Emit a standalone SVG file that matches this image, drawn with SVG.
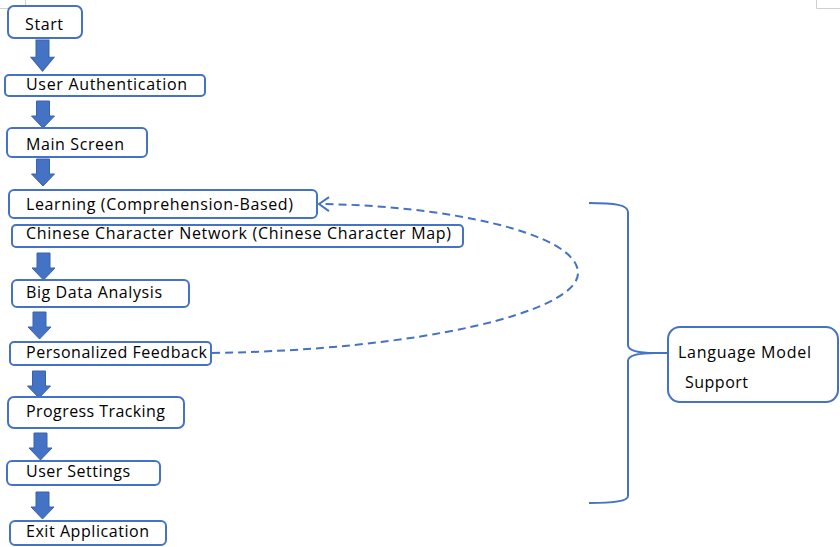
<svg xmlns="http://www.w3.org/2000/svg" width="840" height="547" viewBox="0 0 840 547">
<style>
.box{fill:#fff;stroke:#4472C4;stroke-width:2}
.lbl{font-family:"Open Sans","Liberation Sans",sans-serif;font-size:16px;fill:#000}
.ba{fill:#4472C4;stroke:#3A62AC;stroke-width:1}
.dash{fill:none;stroke:#4472C4;stroke-width:2;stroke-dasharray:8 5}
.brace{fill:none;stroke:#4472C4;stroke-width:2}
.mark{fill:none;stroke:#d0d0d0;stroke-width:1}
</style>
<defs>
<path id="blk" d="M-6.5,0 L6.5,0 L6.5,15 L11.5,15 L0,27 L-11.5,15 L-6.5,15 Z"/>
<marker id="chev" viewBox="0 0 12 16" refX="11" refY="8" markerWidth="12" markerHeight="16" markerUnits="userSpaceOnUse" orient="auto">
<polyline points="1,1 11,8 1,15" fill="none" stroke="#4472C4" stroke-width="2"/>
</marker>
</defs>
<rect width="840" height="547" fill="#fff"/>
<path class="mark" d="M0,8.5 H25.5 V0 M816.5,0 V8.5 H840"/>
<g id="connectors">
<use href="#blk" class="ba" transform="translate(42.5,40) scale(1,1.15)"/>
<use href="#blk" class="ba" transform="translate(43,101)"/>
<use href="#blk" class="ba" transform="translate(43,159)"/>
<use href="#blk" class="ba" transform="translate(43.5,253)"/>
<use href="#blk" class="ba" transform="translate(39.5,312)"/>
<use href="#blk" class="ba" transform="translate(39,371)"/>
<use href="#blk" class="ba" transform="translate(40.5,433)"/>
<use href="#blk" class="ba" transform="translate(42.5,492)"/>
<path class="dash" d="M212,353 C420,350 578,312 578,273 C578,232 440,205 319,204" marker-end="url(#chev)"/>
<path class="brace" d="M589,203 C615,203 628,205 628,212 L628,345 C628,351 640,353 655,353 L670,353 M655,353 C640,353 628,355 628,361 L628,496 C628,501 615,503 589,503"/>
</g>
<g id="start"><rect class="box" x="8" y="6" width="74" height="32" rx="6"/><text class="lbl" x="25" y="30" textLength="38">Start</text></g>
<g id="user-auth"><rect class="box" x="5" y="75" width="200" height="21" rx="4"/><text class="lbl" x="26" y="90" textLength="161">User Authentication</text></g>
<g id="main-screen"><rect class="box" x="7" y="128" width="140" height="29" rx="5"/><text class="lbl" x="26" y="150" textLength="98">Main Screen</text></g>
<g id="learning"><rect class="box" x="9" y="190" width="308" height="28" rx="5"/><text class="lbl" x="26" y="210" textLength="267">Learning (Comprehension-Based)</text></g>
<g id="char-network"><rect class="box" x="12" y="225" width="451" height="22" rx="4"/><text class="lbl" x="26" y="239" textLength="425">Chinese Character Network (Chinese Character Map)</text></g>
<g id="big-data"><rect class="box" x="12" y="280" width="177" height="27" rx="5"/><text class="lbl" x="26" y="298" textLength="136">Big Data Analysis</text></g>
<g id="feedback"><rect class="box" x="10" y="342" width="201" height="23" rx="4"/><text class="lbl" x="26" y="358" textLength="181">Personalized Feedback</text></g>
<g id="progress"><rect class="box" x="8" y="397" width="176" height="31" rx="6"/><text class="lbl" x="26" y="417" textLength="139">Progress Tracking</text></g>
<g id="settings"><rect class="box" x="7" y="461" width="153" height="24" rx="5"/><text class="lbl" x="26" y="477" textLength="104">User Settings</text></g>
<g id="exit"><rect class="box" x="10" y="521" width="156" height="24" rx="5"/><text class="lbl" x="26" y="537" textLength="123">Exit Application</text></g>
<g id="language-model"><rect class="box" x="668" y="327" width="170" height="75" rx="12"/><text class="lbl" x="678" y="358" textLength="133">Language Model</text><text class="lbl" x="685" y="388" textLength="63">Support</text></g>
</svg>
